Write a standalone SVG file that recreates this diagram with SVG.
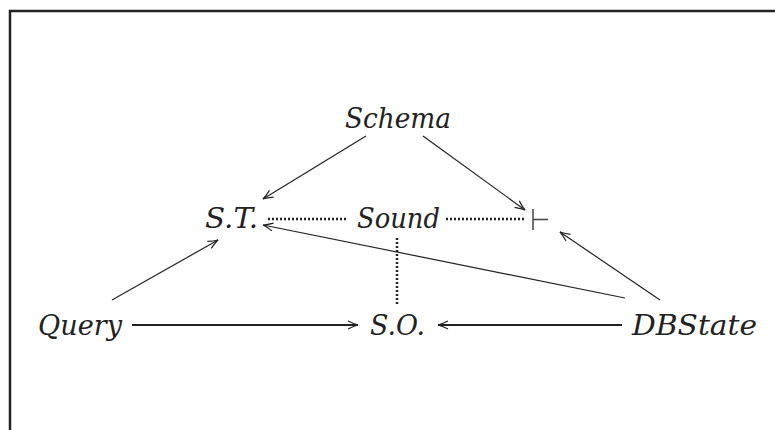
<svg xmlns="http://www.w3.org/2000/svg" width="775" height="430" viewBox="0 0 775 430">
<style>
.t{font-family:"DejaVu Serif",serif;font-style:italic;font-size:28px;fill:#222}
.c{stroke:#222;stroke-width:1.2;fill:none}
.h{stroke:#222;stroke-width:1.8;fill:none}
.d{stroke:#222;stroke-width:2.5;stroke-dasharray:2,2;fill:none}
</style>
<defs>
<marker id="a" viewBox="-12 -6 14 12" markerWidth="14" markerHeight="12" refX="0" refY="0" orient="auto" markerUnits="userSpaceOnUse">
<path d="M-10,-4 Q-4,-1 0,0 Q-4,1 -10,4" stroke="#222" stroke-width="1.2" fill="none"/>
</marker>
</defs>
<rect width="775" height="430" fill="#fff"/>
<path d="M10,430 V11 H775" stroke="#222" stroke-width="2.5" fill="none"/>
<g id="connectors">
<line class="c" x1="366" y1="136" x2="263" y2="199" marker-end="url(#a)"/>
<line class="c" x1="423" y1="136" x2="525" y2="210" marker-end="url(#a)"/>
<line class="c" x1="112" y1="300" x2="218" y2="240" marker-end="url(#a)"/>
<line class="c" x1="660" y1="300" x2="560" y2="232" marker-end="url(#a)"/>
<line class="c" x1="625" y1="298" x2="263" y2="225" marker-end="url(#a)"/>
<line class="h" x1="132" y1="325" x2="358" y2="325" marker-end="url(#a)"/>
<line class="h" x1="622" y1="325" x2="438" y2="325" marker-end="url(#a)"/>
<line class="d" x1="268" y1="219" x2="348" y2="219"/>
<line class="d" x1="446" y1="219" x2="525" y2="219"/>
<line class="d" x1="397" y1="238" x2="397" y2="306"/>
</g>
<g id="schema"><text class="t" x="345" y="128" textLength="106" lengthAdjust="spacingAndGlyphs">Schema</text></g>
<g id="st"><text class="t" x="205" y="228" textLength="53" lengthAdjust="spacingAndGlyphs">S.T.</text></g>
<g id="sound"><text class="t" x="357" y="228" textLength="83" lengthAdjust="spacingAndGlyphs">Sound</text></g>
<g id="turnstile"><path d="M533,209 V230 M533,219.5 H548" stroke="#444" stroke-width="1.5" fill="none"/></g>
<g id="query"><text class="t" x="38" y="335" textLength="84" lengthAdjust="spacingAndGlyphs">Query</text></g>
<g id="so"><text class="t" x="370" y="335" textLength="55" lengthAdjust="spacingAndGlyphs">S.O.</text></g>
<g id="dbstate"><text class="t" x="632" y="335" textLength="125" lengthAdjust="spacingAndGlyphs">DBState</text></g>
</svg>
